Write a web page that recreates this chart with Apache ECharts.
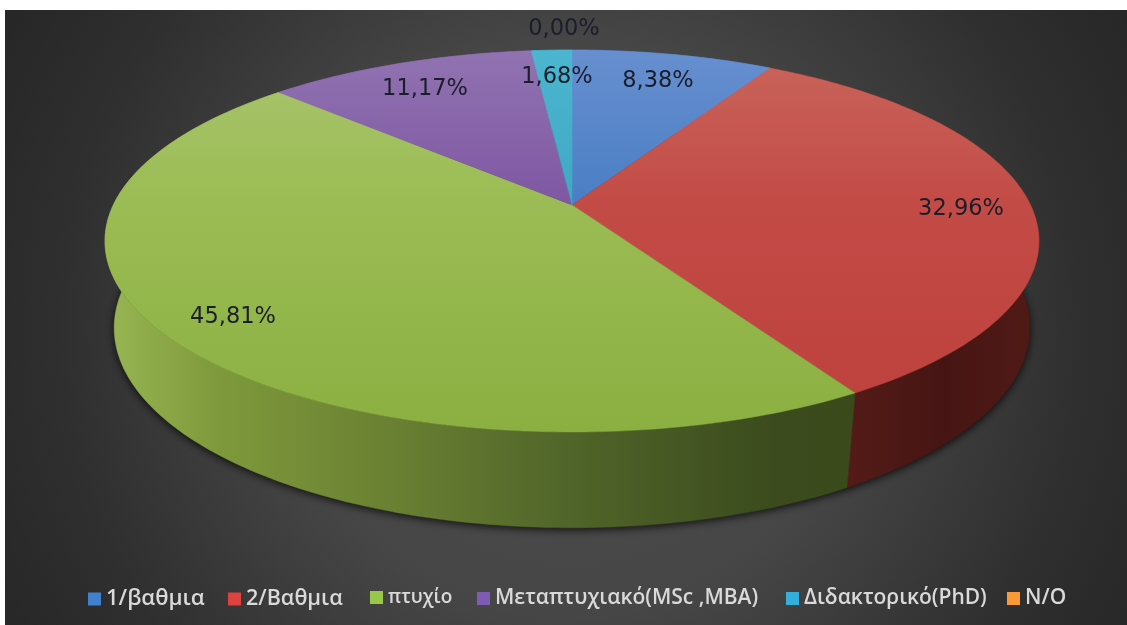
<!DOCTYPE html>
<html>
<head>
<meta charset="utf-8">
<style>html,body{margin:0;padding:0;background:#fff}#c{width:1127px;height:625px}</style>
<script src="https://cdn.jsdelivr.net/npm/echarts@6/dist/echarts.min.js"></script>
</head>
<body>
<div id="c"></div>
<script>
const categories = ['1/βαθμια', '2/Βαθμια', 'πτυχίο', 'Μεταπτυχιακό(MSc ,MBA)', 'Διδακτορικό(PhD)', 'N/O'];
const percentages = [8.38, 32.96, 45.81, 11.17, 1.68, 0.00];
const legendColors = ['#4280cf', '#dd4140', '#98c74a', '#7f5cb4', '#33afdc', '#fa9a36'];
const topLight = ['#678fd0', '#c9655c', '#a9c56e', '#9173b1', '#4cb5cf', '#f79646'];
const topMid   = ['#4a7ec4', '#c34b46', '#9bbc54', '#7f57a3', '#3fa9c5', '#f79646'];
const topDark  = ['#4277bf', '#bd403c', '#8bb041', '#7a4f9f', '#3ba5c0', '#f79646'];
const labelAnchors = [[658, 81], [961, 209], [233, 317], [425, 89], [557, 77], [564, 29]];
const legendLefts = [83, 223, 365, 472, 781, 1002];
const legendFontSizes = [22, 21.5, 19, 21, 21, 21];

const topDisc = {cx: 572, cy: 205, A: 458.6, B: 184.2, k: 0.1885};
const baseDisc = {cx: 572, cy: 292.5, A: 450.6, B: 193.6, k: 0.177};
function project(d, frac) {
  const t = frac * 2 * Math.PI, u = Math.sin(t), v = -Math.cos(t), w = 1 - d.k * v;
  return [d.cx + d.A * u / w, d.cy + d.B * v / w];
}
function arc(d, f0, f1) {
  const n = Math.max(1, Math.ceil((f1 - f0) * 360)), pts = [];
  for (let i = 0; i <= n; i++) pts.push(project(d, f0 + (f1 - f0) * i / n));
  return pts;
}
const total = percentages.reduce((a, b) => a + b, 0);
const starts = [];
percentages.reduce((acc, v, i) => { starts[i] = acc / total; return acc + v; }, 0);
const G = echarts.graphic;
function wallFill(i) {
  if (i === 1) return new G.LinearGradient(850, 0, 1035, 0, [
    {offset: 0, color: '#531b17'}, {offset: 0.5, color: '#461513'}, {offset: 1, color: '#501a16'}], true);
  if (i === 2) return new G.LinearGradient(110, 0, 850, 0, [
    {offset: 0, color: '#97b552'}, {offset: 0.14, color: '#7f9a3c'}, {offset: 0.38, color: '#6a8032'},
    {offset: 0.6, color: '#52672a'}, {offset: 0.9, color: '#3b4b1d'}, {offset: 1, color: '#3a4a1b'}], true);
  return topDark[i];
}
const shadowSeries = {
  type: 'custom', coordinateSystem: 'none', z: 1, silent: true, data: [[1]],
  renderItem() {
    return {type: 'polygon', shape: {points: arc(baseDisc, 0, 1)},
      style: {fill: '#111', shadowBlur: 8, shadowColor: 'rgba(0,0,0,0.8)', shadowOffsetY: 2}};
  }
};
const wallSeries = {
  type: 'custom', coordinateSystem: 'none', z: 2, silent: true,
  data: percentages.map((v, i) => [v, i]),
  renderItem(params, api) {
    const v = api.value(0), i = api.value(1);
    if (!v) return {type: 'group', children: []};
    const f0 = starts[i], f1 = f0 + v / total;
    const pts = arc(topDisc, f0, f1).concat(arc(baseDisc, f0, f1).reverse());
    const fill = wallFill(i);
    return {type: 'polygon', shape: {points: pts}, style: {fill, stroke: fill, lineWidth: 0.5}};
  }
};
const topSeries = categories.map((name, i) => ({
  name, type: 'custom', coordinateSystem: 'none', z: 3, silent: true,
  itemStyle: {color: legendColors[i]},
  data: [[percentages[i]]],
  renderItem(params, api) {
    const v = api.value(0);
    if (!v) return {type: 'group', children: []};
    const f0 = starts[i], f1 = f0 + v / total;
    const pts = [[topDisc.cx, topDisc.cy]].concat(arc(topDisc, f0, f1));
    const fill = new G.LinearGradient(0, 50, 0, 432, [
      {offset: 0, color: topLight[i]}, {offset: 0.4, color: topMid[i]}, {offset: 1, color: topDark[i]}], true);
    return {type: 'polygon', shape: {points: pts}, style: {fill, stroke: fill, lineWidth: 0.5}};
  }
}));
const labelSeries = {
  type: 'custom', coordinateSystem: 'none', z: 5, silent: true,
  data: percentages.map((v, i) => [v, i]),
  renderItem(params, api) {
    const v = api.value(0), i = api.value(1), a = labelAnchors[i];
    return {type: 'text', style: {
      text: v.toFixed(2).replace('.', ',') + '%', x: a[0], y: a[1],
      align: 'center', verticalAlign: 'middle',
      font: '22.5px "DejaVu Sans"', fill: '#1b1d2a'}};
  }
};
const chart = echarts.init(document.getElementById('c'));
chart.setOption({
  animation: false,
  backgroundColor: '#ffffff',
  graphic: [{
    type: 'rect', z: -10, silent: true, left: 5, top: 10,
    shape: {width: 1122, height: 615},
    style: {fill: new G.RadialGradient(566, 320, 640, [
      {offset: 0, color: '#4e4e4e'}, {offset: 0.45, color: '#464646'},
      {offset: 0.8, color: '#2f2f2f'}, {offset: 1, color: '#272727'}], true)}
  }],
  legend: categories.map((name, i) => ({
    data: [name], left: legendLefts[i], top: 583, itemWidth: 13, itemHeight: 13,
    icon: 'rect', selectedMode: false,
    textStyle: {color: '#d9d9d9', fontFamily: 'Open Sans', fontWeight: 600, fontSize: legendFontSizes[i]}
  })),
  series: [shadowSeries, wallSeries].concat(topSeries, labelSeries)
});
</script>
</body>
</html>
